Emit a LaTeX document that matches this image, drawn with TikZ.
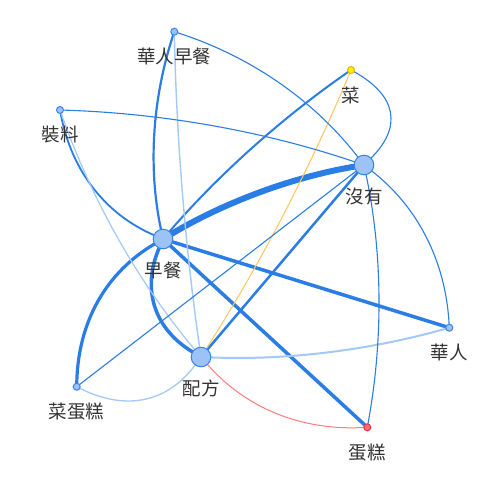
\documentclass[tikz,border=0pt]{standalone}
\usepackage{fontspec}
\newfontfamily\cjk{Noto Sans CJK TC}
\usetikzlibrary{calc}
\pgfdeclarelayer{bg}
\pgfdeclarelayer{edges}
\pgfsetlayers{bg,edges,main}
\definecolor{edgeblue}{HTML}{2B7DE6}
\definecolor{lightedge}{HTML}{A3C9F6}
\definecolor{nodefill}{HTML}{9BC3F8}
\definecolor{nodedraw}{HTML}{3A83E4}
\definecolor{orangeedge}{HTML}{FFC65C}
\definecolor{rededge}{HTML}{FF7B7B}
\definecolor{yfill}{HTML}{FFF000}
\definecolor{ydraw}{HTML}{F2B300}
\definecolor{rfill}{HTML}{FF6A78}
\definecolor{rdraw}{HTML}{E8323F}
\definecolor{labtext}{HTML}{333333}
\newcommand{\curvedge}[4]{%
  \coordinate (qm) at ($(#2)!0.5!(#3)$);
  \coordinate (qp) at ($(qm)!#4!90:(#3)$);
  \draw[#1] (#2) .. controls ($(#2)!2/3!(qp)$) and ($(#3)!2/3!(qp)$) .. (#3);
}
\tikzset{
  big/.style={circle, inner sep=0pt, outer sep=0pt, minimum size=19.6pt, fill=nodefill, draw=nodedraw, line width=1pt},
  small/.style={circle, inner sep=0pt, outer sep=0pt, minimum size=7pt, fill=nodefill, draw=nodedraw, line width=1pt},
  yel/.style={fill=yfill, draw=ydraw},
  redn/.style={fill=rfill, draw=rdraw},
  lab/.style={font=\cjk\fontsize{18.5}{20}\selectfont, text=labtext, inner sep=0pt},
  e/.style={draw=edgeblue},
  le/.style={draw=lightedge},
  oe/.style={draw=orangeedge, line width=1pt},
  re/.style={draw=rededge, line width=1pt}
}
\begin{document}
\begin{tikzpicture}[x=1pt,y=-1pt]
\begin{pgfonlayer}{bg}
\fill[white] (0,0) rectangle (502,488);
\end{pgfonlayer}
\useasboundingbox (0,0) rectangle (502,488);
% nodes
\node[big] (zc) at (163,239) {};
\node[big] (my) at (364,165) {};
\node[big] (pf) at (201,357) {};
\node[small] (hz) at (174.3,31.7) {};
\node[small] (zl) at (60,110) {};
\node[small,yel] (c) at (351,70) {};
\node[small] (hr) at (449.3,327.7) {};
\node[small] (cdg) at (76.7,386.7) {};
\node[small,redn] (dg) at (367.3,427.3) {};
% labels
\node[lab] (lzc) at (163,270.5) {早餐};
\node[lab] (lmy) at (364,196.5) {沒有};
\node[lab] (lpf) at (201,388.5) {配方};
\node[lab] (lhz) at (174.3,56.7) {華人早餐};
\node[lab] (lzl) at (60,135) {裝料};
\node[lab] (lc) at (351,95) {菜};
\node[lab] (lhr) at (449.3,352.7) {華人};
\node[lab] (lcdg) at (76.7,411.7) {菜蛋糕};
\node[lab] (ldg) at (367.3,452.3) {蛋糕};
% edges
\begin{pgfonlayer}{edges}
\curvedge{e, line width=6pt}{zc}{my}{20pt}
\curvedge{e, line width=2.2pt}{zc}{hz}{28pt}
\curvedge{e, line width=1.8pt}{zc}{zl}{44pt}
\curvedge{e, line width=2pt}{zc}{c}{16pt}
\draw[e, line width=3.5pt] (zc) -- (hr);
\draw[e, line width=3.5pt] (zc) -- (dg);
\curvedge{e, line width=3.5pt}{zc}{pf}{-54pt}
\curvedge{e, line width=3.2pt}{zc}{cdg}{-48pt}
\draw[e, line width=2.5pt] (pf) -- (my);
\curvedge{oe}{pf}{c}{-14pt}
\curvedge{le, line width=1.4pt}{pf}{hz}{10pt}
\curvedge{le, line width=1.2pt}{pf}{zl}{26pt}
\curvedge{le, line width=2pt}{pf}{hr}{-20pt}
\curvedge{re}{pf}{dg}{-44pt}
\curvedge{le, line width=1.3pt}{pf}{cdg}{54pt}
\curvedge{e, line width=1.1pt}{my}{hz}{-36pt}
\curvedge{e, line width=1.1pt}{my}{zl}{-23pt}
\curvedge{e, line width=1.1pt}{my}{c}{-64pt}
\curvedge{e, line width=1.1pt}{my}{hr}{42pt}
\curvedge{e, line width=1.1pt}{my}{dg}{26pt}
\draw[e, line width=1.1pt] (my) -- (cdg);
\end{pgfonlayer}
\end{tikzpicture}
\end{document}
